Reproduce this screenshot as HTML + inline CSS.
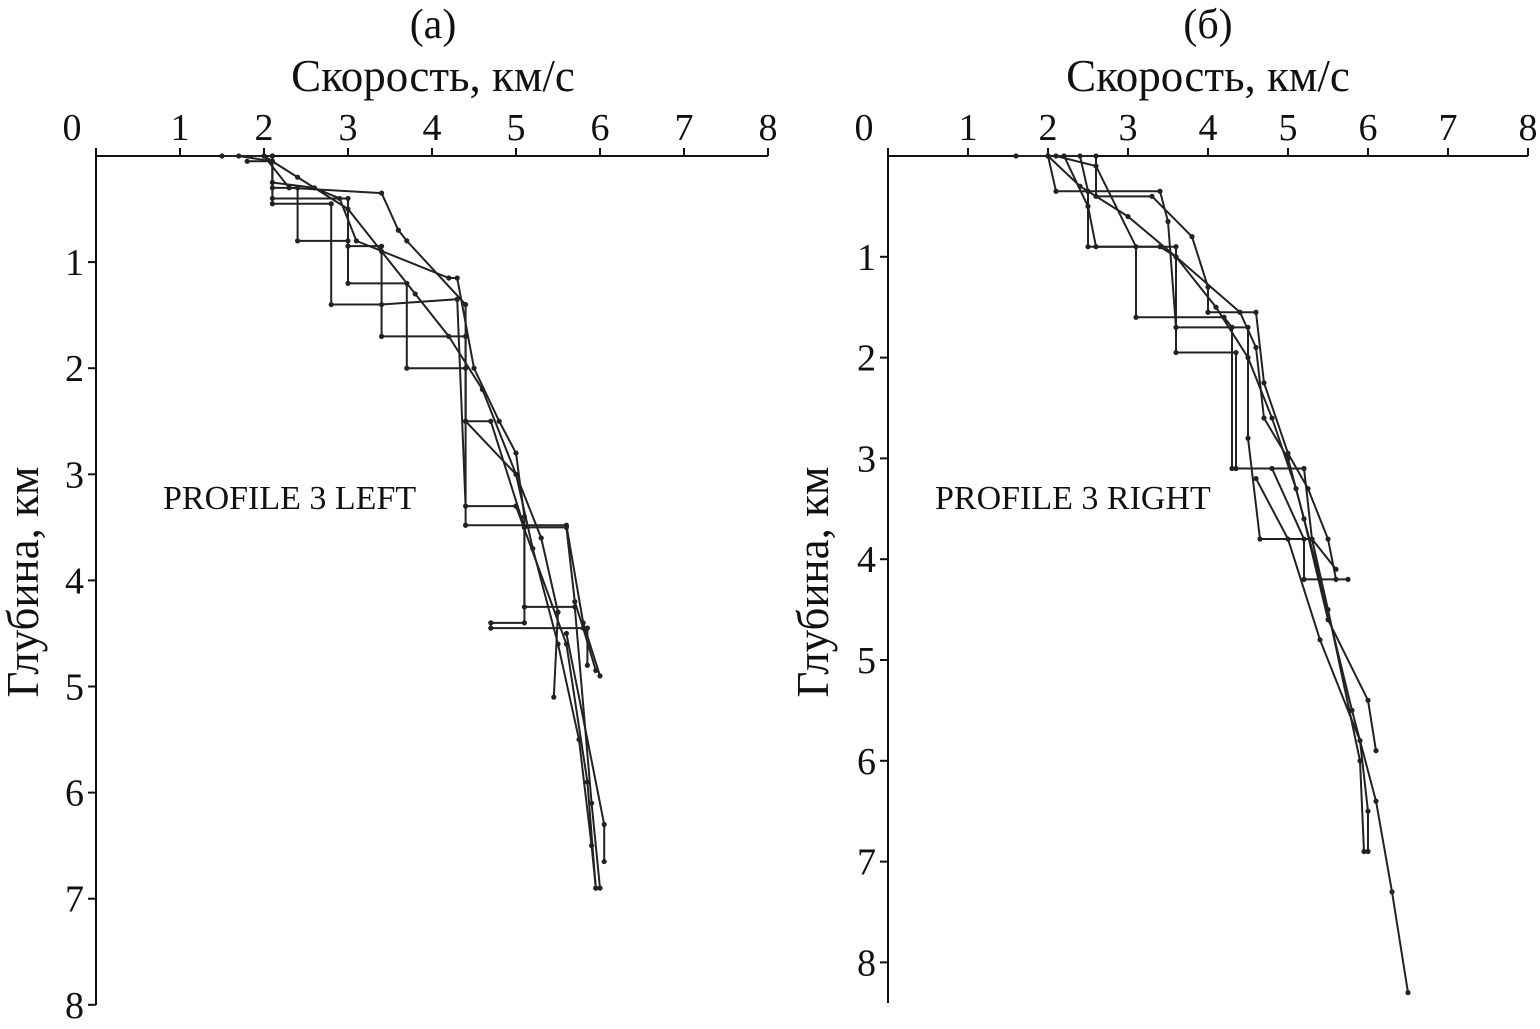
<!DOCTYPE html>
<html><head><meta charset="utf-8"><style>
html,body{margin:0;padding:0;background:#fff}
svg{display:block}
text{font-family:"Liberation Serif",serif;fill:#111}
</style></head><body>
<svg id="c" width="1540" height="1029" viewBox="0 0 1540 1029"></svg>
<script>
const xTicks=[0,1,2,3,4,5,6,7,8];
const yTicks=[0,1,2,3,4,5,6,7,8];
const leftSeries=[
[[1.5,0],[2.1,0],[2.1,0.4],[3.0,0.4],[3.0,0.85],[3.4,0.85],[3.4,1.7],[4.4,1.7],[4.4,2.5],[4.7,2.5],[5.1,3.5],[5.1,4.25],[5.7,4.25],[5.9,6.1],[6.0,6.9]],
[[1.7,0],[2.1,0.05],[2.1,0.45],[2.8,0.45],[2.8,1.4],[3.4,1.4],[4.3,1.35],[4.4,3.3],[5.0,3.3],[5.1,3.5],[5.6,3.5],[5.7,4.2],[5.8,4.45],[5.95,4.85]],
[[2.0,0],[2.4,0.2],[3.0,0.5],[3.4,0.9],[3.8,1.3],[4.2,1.7],[4.6,2.2],[5.0,3.0],[5.2,3.7],[5.5,4.6],[5.75,5.5],[5.9,6.5],[5.95,6.9]],
[[2.0,0],[2.3,0.3],[3.4,0.35],[3.6,0.7],[3.7,0.8],[4.4,1.4],[4.4,3.48],[5.6,3.48],[5.8,4.4],[6.0,4.9]],
[[2.1,0],[2.1,0.3],[2.4,0.3],[2.4,0.8],[3.0,0.8],[3.0,1.2],[3.7,1.2],[3.7,2.0],[4.4,2.0],[4.4,2.5],[5.0,3.0],[5.3,3.6],[5.5,4.3],[5.45,5.1]],
[[1.8,0.05],[2.1,0.05],[2.1,0.25],[2.6,0.3],[2.9,0.4],[3.1,0.8],[4.2,1.15],[4.3,1.15],[4.5,2.0],[4.8,2.5],[5.0,2.8],[5.1,3.4],[5.1,4.4],[4.7,4.4],[4.7,4.45],[5.85,4.45],[5.85,4.8]],
[[5.0,3.3],[5.6,4.6],[5.85,5.9],[5.95,6.9]],
[[5.6,4.5],[6.05,6.3],[6.05,6.65]]
];
const rightSeries=[
[[1.6,0],[2.0,0],[2.1,0.35],[2.5,0.35],[2.5,0.9],[3.6,0.9],[3.6,1.95],[4.35,1.95],[4.35,3.1],[4.8,3.1],[5.2,3.8],[5.2,4.2],[5.75,4.2]],
[[2.0,0],[2.6,0],[2.6,0.4],[3.3,0.4],[3.8,0.8],[4.0,1.3],[4.0,1.55],[4.6,1.55],[4.7,2.25],[5.0,2.95],[5.25,3.3],[5.5,3.8],[5.6,4.2]],
[[2.0,0],[2.4,0.3],[3.0,0.6],[3.6,1.0],[4.1,1.5],[4.5,2.0],[4.8,2.6],[5.1,3.3],[5.4,4.2],[5.8,5.5],[6.1,6.4],[6.3,7.3],[6.5,8.3]],
[[2.0,0],[2.2,0],[2.5,0.5],[2.6,0.9],[3.4,0.9],[3.6,1.0],[4.4,1.55],[4.6,1.9],[4.7,2.6],[5.0,3.0],[5.2,3.6],[5.5,4.6],[6.0,5.4],[6.1,5.9]],
[[2.1,0],[2.6,0.1],[3.1,0.9],[3.1,1.6],[4.2,1.6],[4.3,1.7],[4.3,3.1],[5.2,3.1],[5.3,3.8],[5.6,4.1]],
[[2.4,0],[2.5,0.35],[3.4,0.35],[3.5,0.65],[3.6,1.7],[4.5,1.7],[4.5,2.8],[4.65,3.8],[5.3,3.8],[5.5,4.5],[5.9,6.0],[5.95,6.9]],
[[4.6,3.2],[5.0,3.8],[5.4,4.8],[5.9,5.8],[6.0,6.5],[6.0,6.9]]
];
const NS="http://www.w3.org/2000/svg";
const svg=document.getElementById('c');
function el(t,a,p){const e=document.createElementNS(NS,t);for(const k in a)e.setAttribute(k,a[k]);(p||svg).appendChild(e);return e;}
function panel(cfg){
  const g=el('g',{});
  
  
  const sx=v=>cfg.x0+v*cfg.kx, sy=d=>cfg.y0+d*cfg.ky;
  const ax=el('path',{d:`M${cfg.x0},${cfg.yEnd} L${cfg.x0},${cfg.y0} L${sx(8)},${cfg.y0}`,stroke:'#111','stroke-width':2,fill:'none'},g);
  
  
  xTicks.forEach(t=>{
    el('line',{x1:sx(t),x2:sx(t),y1:cfg.y0,y2:cfg.y0-8,stroke:'#111','stroke-width':2},g);
    const tx=el('text',{x:sx(t)+(t===0?-24:0),y:cfg.y0-16,'text-anchor':'middle','font-size':38},g);
    tx.textContent=t;
    
    
  });
  yTicks.forEach(t=>{
    if(t===0)return;
    if(sy(t)>cfg.yEnd+2)return;
    el('line',{x1:cfg.x0,x2:cfg.x0-8,y1:sy(t),y2:sy(t),stroke:'#111','stroke-width':2},g);
    const tx=el('text',{x:cfg.x0-12,y:sy(t)+13,'text-anchor':'end','font-size':38},g);
    tx.textContent=t;
    
    
  });
  const t1=el('text',{x:cfg.cx,y:38,'text-anchor':'middle','font-size':42},g);t1.textContent=cfg.title;
  
  const t2=el('text',{x:cfg.cx,y:91,'text-anchor':'middle','font-size':45},g);t2.textContent='Скорость, км/с';
  
  const t3=el('text',{x:cfg.ylx,y:582,'text-anchor':'middle','font-size':45,transform:`rotate(-90 ${cfg.ylx} 582)`},g);t3.textContent='Глубина, км';
  
  const t4=el('text',{x:cfg.lx,y:509,'font-size':34},g);t4.textContent=cfg.label;
  
  cfg.series.forEach((s,i)=>{
    const p=el('polyline',{points:s.map(q=>sx(q[0])+','+sy(q[1])).join(' '),fill:'none',stroke:'#222','stroke-width':2},g);
    
    
    s.forEach(q=>{
      const c=el('circle',{cx:sx(q[0]),cy:sy(q[1]),r:2.6,fill:'#222'},g);
      
      
    });
  });
}
panel({name:'panel-left',x0:96,kx:84,y0:156,ky:106.1,yEnd:1005,cx:433,ylx:38,lx:163,title:'(а)',label:'PROFILE 3 LEFT',series:leftSeries});
panel({name:'panel-right',x0:888,kx:80,y0:156,ky:100.8,yEnd:1003,cx:1208,ylx:828,lx:935,title:'(б)',label:'PROFILE 3 RIGHT',series:rightSeries});
</script>
</body></html>
